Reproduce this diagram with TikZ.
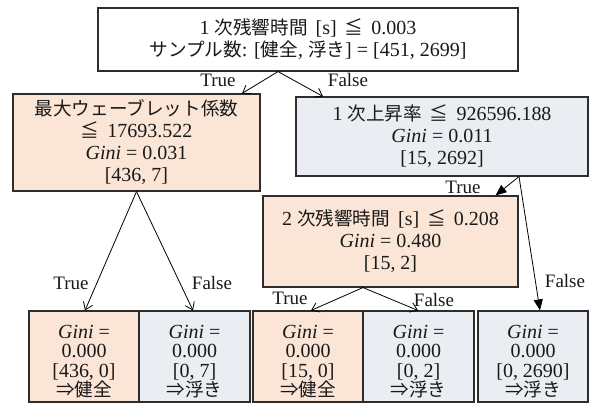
\documentclass[tikz,border=0pt]{standalone}
\usepackage{fontspec}
\setmainfont{Liberation Serif}
\newfontfamily\jpfont{Noto Sans CJK JP}[Scale=0.93]
\newcommand{\J}[1]{{\jpfont #1}}
\newcommand{\gap}{\hspace{8pt}}
\newcommand{\topstrut}{\rule{0pt}{23pt}}
\usetikzlibrary{arrows.meta}
\definecolor{peach}{RGB}{251,229,214}
\definecolor{slate}{RGB}{234,237,242}
\definecolor{edge}{RGB}{45,45,45}
\begin{document}
\begin{tikzpicture}[x=1pt,y=-1pt,
  box/.style={draw=edge, line width=1.1pt, align=center, inner sep=0pt,
    text=black!90, font=\fontsize{20}{22}\selectfont},
  leaf/.style={box, minimum height=91pt, font=\fontsize{20}{19.5}\selectfont},
  lbl/.style={inner sep=0pt, text=black!90, font=\fontsize{19}{22}\selectfont},
  arr/.style={-{Straight Barb[length=7pt,width=10pt]}, line width=0.8pt},
  arrbig/.style={-{Triangle[length=11pt,width=9pt]}, line width=0.8pt}]
\useasboundingbox (0,0) rectangle (606,405);
\fill[white] (0,0) rectangle (606,405);

\node[box, fill=white, minimum width=420pt, minimum height=63pt] (root) at (308,39.5)
  {1 \J{次残響時間}\gap[s]\gap\J{≦}\gap0.003\\\J{サンプル数}: [\J{健全},\ \J{浮き}] = [451, 2699]};
\node[box, fill=peach, minimum width=247pt, minimum height=97pt] (lft) at (136.5,142.5)
  {\J{最大ウェーブレット係数}\\\J{≦}\gap17693.522\\\textit{Gini} = 0.031\\{[436, 7]}};
\node[box, fill=slate, minimum width=292pt, minimum height=79pt] (rgt) at (442,136.5)
  {1 \J{次上昇率}\gap\J{≦}\gap926596.188\\\textit{Gini} = 0.011\\{[15, 2692]}};
\node[box, fill=peach, minimum width=255pt, minimum height=91pt] (mid) at (390.5,241.5)
  {2 \J{次残響時間}\gap[s]\gap\J{≦}\gap0.208\\\textit{Gini} = 0.480\\{[15, 2]}};

\node[leaf, fill=peach, minimum width=110pt] (leafA) at (84,356.5)
  {\topstrut\textit{Gini} =\\0.000\\{[436, 0]}\\\J{⇒健全}};
\node[leaf, fill=slate, minimum width=111pt] (leafB) at (194.5,356.5)
  {\topstrut\textit{Gini} =\\0.000\\{[0, 7]}\\\J{⇒浮き}};
\node[leaf, fill=peach, minimum width=110pt] (leafC) at (308,356.5)
  {\topstrut\textit{Gini} =\\0.000\\{[15, 0]}\\\J{⇒健全}};
\node[leaf, fill=slate, minimum width=111pt] (leafD) at (418.5,356.5)
  {\topstrut\textit{Gini} =\\0.000\\{[0, 2]}\\\J{⇒浮き}};
\node[leaf, fill=slate, minimum width=110pt] (leafE) at (533,356.5)
  {\topstrut\textit{Gini} =\\0.000\\{[0, 2690]}\\\J{⇒浮き}};

\draw[arr] ([xshift=-30pt]root.south) -- ([xshift=105.5pt]lft.north);
\draw[arr] ([xshift=-30pt]root.south) -- ([xshift=-119pt]rgt.north);
\draw[arr] (lft.south) -- ([xshift=1pt]leafA.north);
\draw[arr] (lft.south) -- ([xshift=-1.5pt]leafB.north);
\draw[arrbig] ([xshift=77pt]rgt.south) -- ([xshift=105pt]mid.north);
\draw[arrbig] ([xshift=77pt]rgt.south) -- ([xshift=7pt]leafE.north);
\draw[arr] ([xshift=-27.5pt]mid.south) -- ([xshift=3pt]leafC.north);
\draw[arr] ([xshift=-27.5pt]mid.south) -- ([xshift=-0.5pt]leafD.north);

\node[lbl] (t1) at (218,80) {True};
\node[lbl] (f1) at (348,80) {False};
\node[lbl] (t2) at (71,283) {True};
\node[lbl] (f2) at (212,283) {False};
\node[lbl] (t3) at (463,187) {True};
\node[lbl] (f3) at (565,281) {False};
\node[lbl] (t4) at (290,298) {True};
\node[lbl] (f4) at (434,300) {False};
\end{tikzpicture}
\end{document}
